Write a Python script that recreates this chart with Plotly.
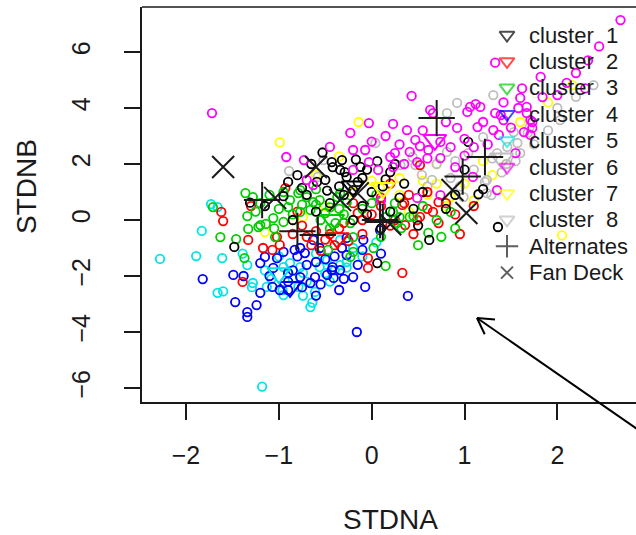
import plotly.graph_objects as go

# ---------------- data ----------------
cluster1 = [(-0.53, 2.41), (-0.43, 2.07), (-0.32, 2.14), (-0.17, 2.16), (0.06, 2.1), (-0.34, 1.79),
            (-0.59, 1.36), (-0.5, 1.43), (-0.27, 1.54), (-0.9, 1.36), (-1.31, 0.62), (-0.42, 1.89),
            (-0.15, 1.36), (-0.29, 1.71), (-0.1, 1.5), (-0.2, 1.07), (0.2, 1.71), (1.04, 2.79),
            (1.15, 0.92), (1.36, -0.25), (0.62, -0.71), (0.06, -1.54), (-1.48, -0.96), (-0.3, 0.9),
            (-0.1, 0.5), (0.0, 1.0), (-0.45, 0.6), (-0.6, 0.3), (0.2, 0.3), (0.3, 0.8), (-0.2, 0.0),
            (0.1, -0.3), (0.45, 0.4), (-0.7, 0.9), (-0.35, 1.2), (-0.75, 1.15), (0.35, 1.3), (0.55, 1.0),
            (-0.05, 0.2), (0.15, 1.45), (-1.15, 0.5), (-0.85, 0.0), (0.8, 0.4), (1.0, 1.8), (0.5, -0.2),
            (-0.95, 0.85), (-0.65, 2.0), (-0.05, 1.8), (0.25, 2.0), (-0.48, 1.05), (-0.12, 1.9),
            (0.12, 1.2), (-0.8, 1.6), (1.2, 1.1), (0.9, 0.9)]
cluster2 = [(-1.62, 0.29), (-1.6, -0.04), (-1.33, -0.71), (-1.17, -1.0), (-1.02, -0.61), (-0.93, 1.14),
            (-0.99, -0.89), (-1.39, -2.21), (-0.04, -1.36), (-0.04, -1.71), (-0.75, -0.2), (-0.6, -0.4),
            (-0.5, -0.7), (-0.4, -0.9), (-0.65, -0.9), (-0.35, -0.3), (-0.55, -1.1), (-0.85, -0.5),
            (-1.07, -1.07), (0.33, -1.89), (0.36, -0.18), (0.52, 0.11), (0.66, 0.29), (0.72, -0.11),
            (0.33, 0.54), (0.72, 0.64), (0.49, 0.0), (0.52, 1.96), (0.0, 0.2), (0.2, -0.2), (-0.2, 0.6),
            (0.1, 0.8), (-0.1, -0.5), (0.35, 0.6), (0.6, 1.0), (0.8, 0.6), (0.9, 0.2), (0.2, 1.3),
            (-0.25, -0.75), (-0.15, 0.25), (-0.8, 0.3), (0.45, -0.5), (-1.3, 0.5), (1.1, 0.5), (0.95, -0.5),
            (-0.3, -0.1), (-0.1, 0.0), (0.1, 0.5), (0.25, 0.0), (-0.45, -0.5), (0.6, 0.4), (0.4, 0.9),
            (-0.7, -0.6)]
cluster3 = [(-1.36, 0.96), (-1.28, 0.82), (-1.34, 0.14), (-1.33, -0.32), (-1.22, -0.25), (-1.14, -0.14),
            (-1.63, -0.61), (-1.46, -0.68), (-1.37, -1.36), (-1.06, 0.07), (-0.95, -0.07), (-1.04, -0.61),
            (-0.79, 0.96), (-0.7, 0.82), (-0.63, 0.64), (-0.5, 0.25), (-0.34, 0.96), (-0.39, -0.11),
            (-0.23, -0.11), (-0.2, -1.14), (0.02, -1.0), (0.15, -1.64), (-0.77, 0.29), (-0.88, 0.71),
            (-1.71, 0.46), (-1.2, -0.18), (-0.66, 0.36), (-0.9, 0.46), (-0.47, -1.07), (-0.23, -1.32),
            (-0.2, -0.61), (0.41, 0.11), (0.61, -0.46), (0.85, 0.29), (0.23, 0.29), (0.45, 0.14),
            (0.27, -0.11), (0.32, -0.29), (-0.77, 1.07), (-0.56, 0.71), (-0.37, 0.82), (-0.27, 0.61),
            (-0.1, 0.4), (0.05, 0.9), (-0.3, 0.2), (0.25, 0.6), (-0.55, 0.0), (-0.45, -0.3), (0.3, 0.1),
            (0.55, 0.5), (0.7, 0.0), (0.9, -0.3), (-0.85, 0.2), (-0.6, 1.1), (-1.0, 0.4), (-1.2, 0.6),
            (0.1, -0.6), (0.5, -0.9), (0.75, -0.6), (-1.1, 0.9), (-0.95, 1.0), (-1.25, 0.3), (-0.6, 0.55),
            (-0.45, 0.45), (-0.75, 0.55), (-1.05, -0.3), (-0.35, 0.4), (0.0, 0.6), (0.15, 0.1)]
cluster4 = [(-1.82, -2.11), (-1.49, -1.96), (-1.38, -2.0), (-1.47, -2.93), (-1.34, -3.29), (-1.34, -3.46),
            (-1.24, -3.04), (-1.2, -1.54), (-1.06, -1.71), (-1.07, -2.39), (-0.99, -2.5), (-0.9, -1.89),
            (-0.9, -2.5), (-0.77, -2.04), (-0.66, -2.25), (-0.61, -2.04), (-0.72, -1.18), (-0.83, -1.07),
            (-0.95, -1.14), (-1.02, -1.36), (-0.48, -1.96), (-0.41, -2.07), (-0.43, -1.79), (-0.34, -1.79),
            (-0.2, -2.04), (-0.27, -0.64), (-0.32, -1.0), (-0.56, -1.0), (-0.63, -0.71), (-0.77, -1.0),
            (-1.15, -1.32), (-0.27, -1.25), (-0.07, -2.39), (-0.16, -4.0), (-0.42, -1.68), (0.09, -0.36),
            (0.39, -2.71), (-0.1, -1.07), (-0.09, -0.71), (-0.5, -1.4), (-0.7, -1.6), (-0.85, -1.8),
            (-1.1, -2.0), (-0.6, -2.7), (-0.35, -2.5), (-0.55, -2.3), (-0.15, -1.6), (0.1, -1.2),
            (-0.8, -1.3), (-0.6, -1.5), (-0.4, -1.3), (-0.9, -2.2), (-1.2, -2.6), (-0.75, -2.4),
            (-0.3, -2.1)]
cluster5 = [(-2.28, -1.39), (-1.18, -5.95), (-1.73, 0.57), (-1.66, 0.46), (-1.83, -0.39), (-1.89, -1.29),
            (-1.61, -1.36), (-1.66, -2.6), (-1.6, -2.55), (-1.39, -1.2), (-1.29, -2.4), (-1.08, -2.1),
            (-0.96, -2.5), (-0.74, -2.7), (-0.64, -2.95), (-0.27, -1.7), (-1.34, -1.61), (-1.28, -2.25),
            (-1.13, -2.39), (-0.95, -1.68), (-0.88, -1.54), (-0.77, -1.68), (-0.74, -1.89), (-0.61, -2.57),
            (-0.66, -3.11), (-0.79, -2.39), (-0.95, -2.68), (-0.56, -1.68), (-0.48, -1.43), (-0.27, -1.5),
            (-0.2, -1.0), (-0.34, -0.71), (-0.34, -1.61), (-0.6, -1.2), (-0.45, -2.2), (-0.1, -1.3),
            (0.05, -0.8), (-0.85, -2.1), (-1.0, -1.3), (-0.7, -2.2), (-0.5, -1.9), (-0.9, -1.9),
            (-1.15, -1.8), (-0.4, -1.8)]
cluster6 = [(0.43, 4.43), (0.66, 3.82), (1.03, 3.86), (1.12, 4.14), (1.33, 3.82), (-0.03, 3.46),
            (0.23, 3.43), (0.38, 3.21), (-0.23, 3.11), (0.15, 3.0), (0.47, 2.86), (0.52, 2.64),
            (0.74, 2.79), (0.92, 3.29), (1.14, 3.32), (1.31, 3.21), (-0.2, 2.5), (-0.07, 2.5),
            (0.25, 2.39), (0.41, 2.43), (0.61, 2.5), (0.2, 2.25), (-0.03, 2.07), (0.07, 1.79),
            (0.23, 1.89), (0.49, 2.07), (0.74, 2.21), (0.9, 1.89), (1.09, 1.54), (0.74, 0.89),
            (0.49, 0.79), (1.35, 1.07), (-1.72, 3.82), (-0.45, 2.61), (-0.92, 2.25), (-0.73, 2.14),
            (-0.7, 1.43), (-0.2, 1.79), (2.68, 7.14), (1.33, 5.62), (1.82, 5.11), (1.62, 4.7),
            (1.84, 4.39), (1.67, 4.04), (1.42, 4.2), (1.39, 3.75), (1.06, 4.04), (0.63, 3.93),
            (1.55, 2.39), (1.64, 3.14), (1.73, 3.5), (1.67, 3.82), (1.6, 4.36), (1.58, 4.0),
            (1.71, 3.57), (1.17, 4.04), (1.42, 3.57), (1.73, 3.29), (1.71, 3.04), (1.37, 3.04),
            (2.33, 5.7), (2.2, 5.25), (2.0, 4.46), (2.45, 6.2), (2.1, 4.9), (-0.63, 1.25), (0.1, 0.7),
            (0.85, 2.6), (1.0, 2.3), (1.25, 2.7), (2.3, 4.7), (0.3, 2.7), (0.55, 3.2), (0.8, 3.5),
            (1.0, 2.9), (1.2, 3.5), (0.6, 2.2), (0.35, 2.0), (1.5, 3.3), (1.1, 2.6), (0.0, 2.8)]
cluster7 = [(-0.99, 2.77), (-0.14, 3.5), (-0.35, 2.27), (0.09, 1.14), (0.85, 0.82), (2.05, -0.55),
            (2.16, 4.82), (-1.15, -0.43), (-0.74, 0.11), (0.6, 0.9), (1.0, 1.3), (1.3, 1.6), (0.4, 0.3),
            (0.8, 0.5), (1.45, 2.0), (1.1, 0.7), (-0.2, 1.0), (0.3, 1.5), (-0.5, 0.5), (1.9, 4.2),
            (1.6, 3.5), (0.55, 1.4), (0.7, 2.0), (0.3, 0.9), (0.7, 1.3), (1.2, 2.1), (-0.6, 1.6),
            (0.0, 1.4)]
cluster8 = [(0.92, 4.18), (0.81, 3.82), (1.31, 4.46), (1.53, 3.14), (1.57, 2.75), (1.46, 2.61),
            (1.6, 2.39), (1.35, 2.39), (1.04, 2.39), (1.22, 1.36), (1.24, 0.96), (0.44, 2.25),
            (0.31, 1.96), (1.68, 3.11), (0.04, 2.75), (0.47, 1.96), (0.54, 1.61), (0.81, 2.43),
            (1.2, 2.96), (1.24, 1.43), (0.99, 0.82), (1.29, 0.89), (0.65, 1.43), (-0.89, 1.75),
            (-0.52, 2.14), (-0.58, 1.54), (2.39, 4.82), (2.03, 3.57), (1.9, 3.2), (1.75, 2.7),
            (2.0, 4.0), (1.45, 2.0), (0.95, 1.2), (2.2, 4.4), (0.7, 2.0), (0.9, 2.1), (1.1, 1.8),
            (1.4, 1.7), (1.3, 2.2), (0.6, 1.2), (1.55, 2.1), (0.85, 1.5), (1.7, 3.3)]

centroid_x = [-0.2, -0.37, -0.42, -0.88, -1.0, 0.68, 0.12, 1.4]
centroid_y = [1.2, -0.65, 0.0, -2.39, -1.9, 2.86, 1.14, 2.2]

alternates_x = [-1.18, -0.8, -0.58, 0.09, 0.7, 1.22, 0.98, 0.12]
alternates_y = [0.71, -0.4, -0.54, 0.0, 3.64, 2.25, 1.55, -0.07]
fandeck_x = [-1.6, -0.6, -1.04, -0.34, 0.87, 1.02, 0.2, -0.15]
fandeck_y = [1.89, 1.89, 0.79, 0.71, 1.07, 0.25, -0.15, 0.95]

cluster_colors = ["#000000", "#FF0000", "#00CD00", "#0000FF", "#00E5E5", "#FF00FF", "#FFFF00", "#BEBEBE"]
legend_labels = ["cluster\u00a0\u00a01", "cluster\u00a0\u00a02", "cluster\u00a0\u00a03", "cluster\u00a0\u00a04",
                 "cluster\u00a0\u00a05", "cluster\u00a0\u00a06", "cluster\u00a0\u00a07", "cluster\u00a0\u00a08",
                 "Alternates", "Fan Deck"]
x_ticks = [-2, -1, 0, 1, 2]
y_ticks = [-6, -4, -2, 0, 2, 4, 6]

clusters = [cluster1, cluster2, cluster3, cluster4, cluster5, cluster6, cluster7, cluster8]

# ---------------- layout geometry (pixels) ----------------
W, H = 636, 535
L, R, T, B = 142, 636, 7, 402
FONT = "Liberation Sans, Arial, Helvetica, sans-serif"
INK = "#1a1a1a"


def px2paper(px, py):
    return (px - L) / (R - L), (B - py) / (B - T)


fig = go.Figure()

plot_order = [6, 7, 4, 3, 1, 2, 0, 5]
for k in plot_order:
    pts = clusters[k]
    fig.add_trace(go.Scatter(
        x=[p[0] for p in pts], y=[p[1] for p in pts], mode="markers",
        marker=dict(symbol="circle-open", size=8.5, color=cluster_colors[k],
                    line=dict(width=1.8, color=cluster_colors[k])),
        hoverinfo="skip"))

fig.add_trace(go.Scatter(
    x=centroid_x, y=centroid_y, mode="markers",
    marker=dict(symbol="triangle-down-open", size=20, color=cluster_colors,
                line=dict(width=2, color=cluster_colors)), hoverinfo="skip"))
fig.add_trace(go.Scatter(
    x=alternates_x, y=alternates_y, mode="markers",
    marker=dict(symbol="cross-thin-open", size=26, color=INK, line=dict(width=2, color=INK)),
    hoverinfo="skip"))
fig.add_trace(go.Scatter(
    x=fandeck_x, y=fandeck_y, mode="markers",
    marker=dict(symbol="x-thin-open", size=22, color=INK, line=dict(width=2, color=INK)),
    hoverinfo="skip"))

# legend (drawn manually on a pixel overlay axis)
row_y = [35 + 26.4 * i for i in range(len(legend_labels))]
leg_syms = ["triangle-down-open"] * 8 + ["cross-thin-open", "x-thin-open"]
leg_cols = cluster_colors + [INK, INK]
leg_sizes = [13] * 8 + [16, 12]
fig.add_trace(go.Scatter(
    x=[507] * len(legend_labels), y=row_y, xaxis="x2", yaxis="y2", mode="markers",
    marker=dict(symbol=leg_syms, size=leg_sizes, color=leg_cols, line=dict(width=2, color=leg_cols)),
    hoverinfo="skip"))

annotations = []
for lab, yy in zip(legend_labels, row_y):
    annotations.append(dict(x=527, y=yy, xref="x2", yref="y2", text=lab, showarrow=False,
                            xanchor="left", yanchor="middle", font=dict(family=FONT, size=22, color=INK)))
# axis titles
ax_t = px2paper(390, 519)
annotations.append(dict(x=ax_t[0], y=ax_t[1], xref="paper", yref="paper", text="STDNA", showarrow=False,
                        xanchor="center", yanchor="middle", font=dict(family=FONT, size=28, color=INK)))
ay_t = px2paper(26, 187)
annotations.append(dict(x=ay_t[0], y=ay_t[1], xref="paper", yref="paper", text="STDNB", showarrow=False,
                        textangle=-90, xanchor="center", yanchor="middle",
                        font=dict(family=FONT, size=28, color=INK)))

shapes = []
# top border of the plot box
shapes.append(dict(type="line", xref="paper", yref="paper", x0=0, x1=1, y0=1, y1=1,
                   line=dict(color=INK, width=1.5)))
# arrow
tail = px2paper(640, 431)
tip = px2paper(477, 318)
b1 = px2paper(495, 319.5)
b2 = px2paper(484.7, 334.3)
for a, b in [(tail, tip), (tip, b1), (tip, b2)]:
    shapes.append(dict(type="line", xref="paper", yref="paper", x0=a[0], y0=a[1], x1=b[0], y1=b[1],
                       line=dict(color="#000000", width=2)))

axis_common = dict(showgrid=False, zeroline=False, showline=True, linecolor=INK, linewidth=1.5,
                   ticks="outside", ticklen=16, tickwidth=1.5, tickcolor=INK,
                   tickfont=dict(family=FONT, size=25, color=INK))

fig.update_layout(
    width=W, height=H, margin=dict(l=L, r=W - R, t=T, b=H - B, pad=0),
    paper_bgcolor="white", plot_bgcolor="white", showlegend=False,
    xaxis=dict(range=[-2.474, 2.847], tickvals=x_ticks,
               ticktext=[str(v).replace("-", "\u2212") for v in x_ticks],
               ticklabelstandoff=14, **axis_common),
    yaxis=dict(range=[-6.5, 7.607], tickvals=y_ticks,
               ticktext=[str(v).replace("-", "\u2212") for v in y_ticks],
               tickangle=-90, ticklabelstandoff=24, **axis_common),
    xaxis2=dict(overlaying="x", range=[L, R], visible=False, anchor="y2"),
    yaxis2=dict(overlaying="y", range=[B, T], visible=False, anchor="x2"),
    annotations=annotations, shapes=shapes,
)

fig.write_html("out.html")
